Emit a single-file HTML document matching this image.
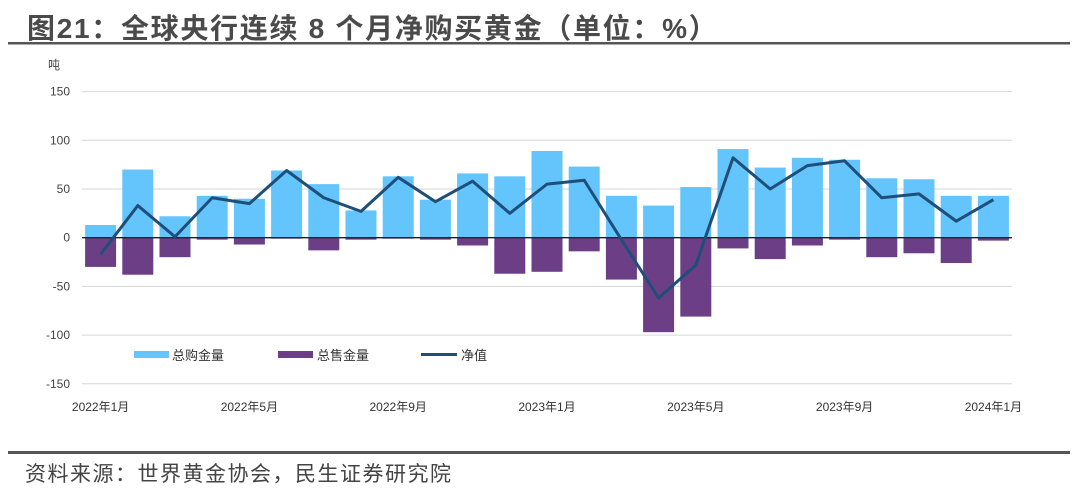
<!DOCTYPE html>
<html><head><meta charset="utf-8">
<style>
body{margin:0;background:#fff;width:1080px;height:493px;overflow:hidden;font-family:"Liberation Sans","Noto Sans CJK SC",sans-serif;}
</style></head>
<body>
<svg id="c" width="1080" height="493" xmlns="http://www.w3.org/2000/svg">
<text x="27" y="38" font-size="28" letter-spacing="1.7" font-weight="bold" fill="#4a4a4a" font-family="Liberation Sans, Noto Sans CJK SC, sans-serif">图21：全球央行连续 8 个月净购买黄金（单位：%）</text>
<rect x="8" y="42" width="1062" height="2.5" fill="#555"/>
<rect x="8" y="451" width="1062" height="3" fill="#555"/>
<text x="25" y="481" font-size="21" letter-spacing="1.5" fill="#444" font-family="Liberation Sans, Noto Sans CJK SC, sans-serif">资料来源：世界黄金协会，民生证券研究院</text>
<text x="48" y="69" font-size="12" fill="#444" font-family="Liberation Sans, Noto Sans CJK SC, sans-serif">吨</text>
<g id="grid"></g><g id="bars"></g><g id="line"></g><g id="ticks"></g>
<g font-size="13" fill="#333" font-family="Liberation Sans, Noto Sans CJK SC, sans-serif">
<rect x="134" y="351" width="35" height="7" fill="#63c5fb"/>
<text x="172" y="360">总购金量</text>
<rect x="278" y="351" width="35" height="7" fill="#6c3e86"/>
<text x="317" y="360">总售金量</text>
<rect x="421" y="353" width="36" height="3" fill="#1f4e79"/>
<text x="461" y="360">净值</text>
</g>
</svg>
<script>
const months=["2022年1月","2022年2月","2022年3月","2022年4月","2022年5月","2022年6月","2022年7月","2022年8月","2022年9月","2022年10月","2022年11月","2022年12月","2023年1月","2023年2月","2023年3月","2023年4月","2023年5月","2023年6月","2023年7月","2023年8月","2023年9月","2023年10月","2023年11月","2023年12月","2024年1月"];
const purchases=[13,70,22,43,40,69,55,28,63,39,66,63,89,73,43,33,52,91,72,82,80,61,60,43,43];
const sales=[-30,-38,-20,-2,-7,-1,-13,-2,-1,-2,-8,-37,-35,-14,-43,-97,-81,-11,-22,-8,-2,-20,-16,-26,-3];
const net=[-17,33,1,41,35,69,41,27,62,37,58,25,55,59,-2,-62,-28,82,50,74,79,41,45,17,39];
const yTicks=[150,100,50,0,-50,-100,-150];
const xTickIdx=[0,4,8,12,16,20,24];
const NS="http://www.w3.org/2000/svg";
const x0=82,x1=1012,step=(x1-x0)/months.length;
const y=v=>237.7-v*0.974;
const xc=i=>x0+step*(i+0.5);
function mk(t,a,p){const e=document.createElementNS(NS,t);for(const k in a)e.setAttribute(k,a[k]);p.appendChild(e);return e;}
const g=document.getElementById('grid'),b=document.getElementById('bars'),l=document.getElementById('line'),tk=document.getElementById('ticks');
yTicks.forEach(v=>{
 const ln=mk('line',{x1:x0,x2:x1,y1:y(v),y2:y(v),stroke:'#d6d6d6','stroke-width':1},g);
 
 
 const t=mk('text',{x:70,y:y(v)+4,'text-anchor':'end','font-size':12,fill:'#444'},tk);
 t.textContent=v;
 
 
});
const bw=31;
purchases.forEach((v,i)=>{
 const r=mk('rect',{x:xc(i)-bw/2,y:y(v),width:bw,height:y(0)-y(v),fill:'#63c5fb'},b);
 
 
});
sales.forEach((v,i)=>{
 const r=mk('rect',{x:xc(i)-bw/2,y:y(0),width:bw,height:y(v)-y(0),fill:'#6c3e86'},b);
 
 
});
const zl=mk('line',{x1:x0,x2:x1,y1:y(0),y2:y(0),stroke:'#222','stroke-width':1.3},b);


const pl=mk('polyline',{points:net.map((v,i)=>xc(i)+','+y(v)).join(' '),fill:'none',stroke:'#1f4e79','stroke-width':3,'stroke-linejoin':'round'},l);


xTickIdx.forEach(i=>{
 const t=mk('text',{x:xc(i),y:411,'text-anchor':'middle','font-size':12,fill:'#333'},tk);
 t.textContent=months[i];
 
 
});
</script>
</body></html>
